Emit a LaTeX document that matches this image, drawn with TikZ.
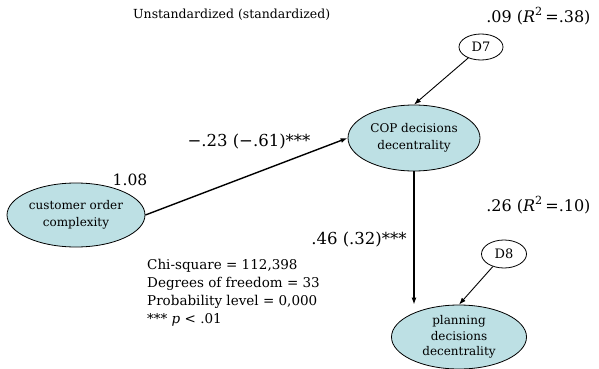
\documentclass[tikz,border=0pt]{standalone}
\usepackage{fontspec}
\setmainfont{DejaVu Serif}
\usetikzlibrary{shapes.geometric,arrows.meta}
\definecolor{latent}{RGB}{189,224,228}
\begin{document}
\begin{tikzpicture}[x=1pt,y=-1pt,
  construct/.style={ellipse,draw,thick,fill=latent,minimum width=138pt,minimum height=64pt,inner sep=0pt,align=center,font=\fontsize{12}{17}\selectfont},
  errterm/.style={ellipse,draw,thick,fill=white,minimum width=44pt,minimum height=26pt,inner sep=0pt,font=\fontsize{13}{14}\selectfont},
  path/.style={-{Latex[length=7pt,width=5pt]},line width=1.4pt},
  errpath/.style={-{Latex[length=7pt,width=5pt]},line width=0.9pt},
  coef/.style={font=\fontsize{16.5}{18}\selectfont},
  stars/.style={},
  note/.style={font=\fontsize{13.5}{18}\selectfont,align=left}]
\useasboundingbox (0,0) rectangle (599,369);

\node[construct] (coc) at (76,215) {customer order\\complexity};
\node[construct,minimum width=132pt,minimum height=66pt] (cop) at (414,138) {COP decisions\\decentrality};
\node[construct,minimum width=135pt,font=\fontsize{12}{15.5}\selectfont] (plan) at (459,337) {planning\\decisions\\decentrality};
\node[errterm] (d7) at (481,47) {D7};
\node[errterm,minimum width=45pt,minimum height=28pt] (d8) at (504,254) {D8};

\draw[path] (coc.east) -- (cop.west);
\draw[path] (cop.south) -- (plan.north -| cop.south);
\draw[errpath] (d7) -- (cop.north);
\draw[errpath] (d8) -- (plan.north);

\node[coef,font=\fontsize{15.5}{18}\selectfont] (l108) at (130,180) {1.08};
\node[coef] (lcop) at (249,142) {−.23 (−.61)***};
\node[coef] (lpl) at (359,240) {.46 (.32)***};
\node[coef,font=\fontsize{16}{18}\selectfont,anchor=east] (r7) at (594,16) {.09 (\textit{R}\textsuperscript{2}\,=.38)};
\node[coef,font=\fontsize{16}{18}\selectfont,anchor=east] (r8) at (594,205) {.26 (\textit{R}\textsuperscript{2}\,=.10)};
\node[font=\fontsize{12.5}{14}\selectfont,anchor=west,inner sep=0pt] (title) at (133,15) {Unstandardized (standardized)};
\node[note,anchor=north west,inner sep=0pt] (fit) at (147,259) {Chi-square = 112,398\\Degrees of freedom = 33\\Probability level = 0,000\\*** \textit{p} < .01};
\end{tikzpicture}
\end{document}
